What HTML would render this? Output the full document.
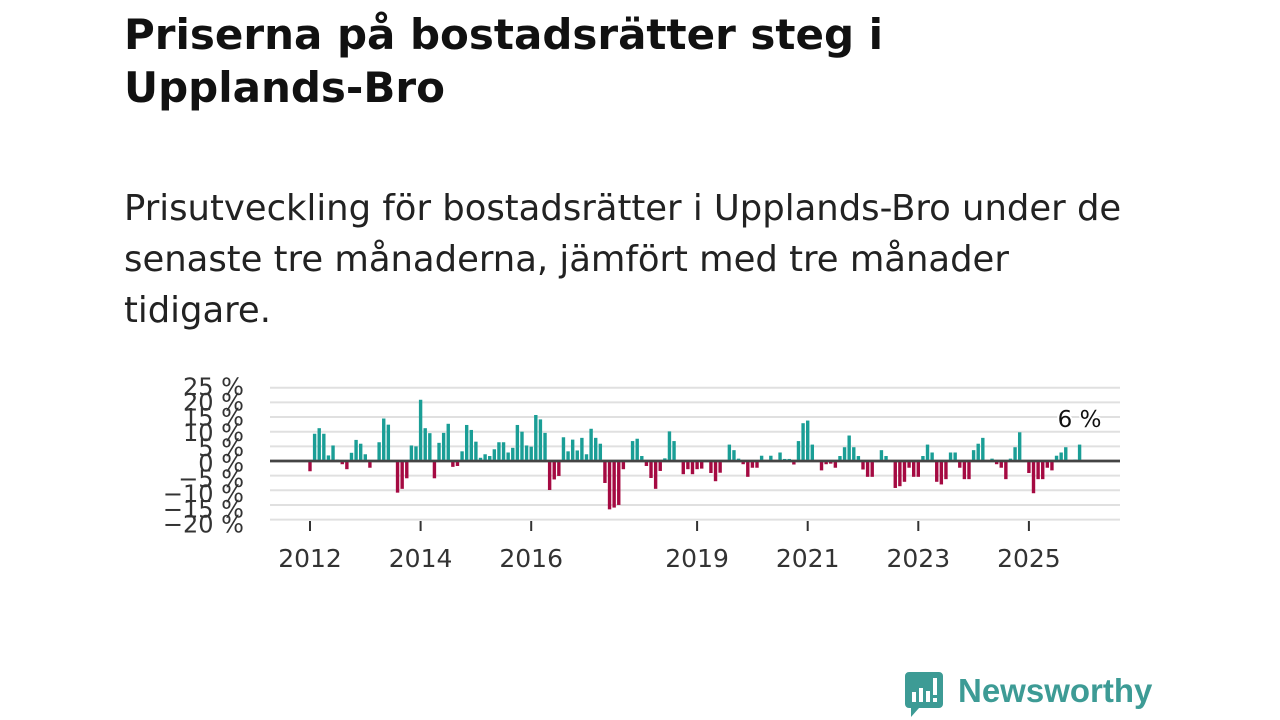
<!DOCTYPE html>
<html><head><meta charset="utf-8">
<style>
html,body{margin:0;padding:0;background:#fff;width:1280px;height:720px;overflow:hidden;font-family:"Liberation Sans","DejaVu Sans",sans-serif;}
#title{position:absolute;left:124px;top:8px;font-size:42px;font-weight:bold;line-height:53px;color:#111;margin:0;font-family:"DejaVu Sans","Liberation Sans",sans-serif;}
#subtitle{position:absolute;left:124px;top:183px;font-size:35.4px;line-height:51px;color:#222;margin:0;font-family:"DejaVu Sans","Liberation Sans",sans-serif;font-weight:normal;}
svg{position:absolute;left:0;top:0;}
#logo{position:absolute;left:903px;top:670px;width:260px;height:50px;}
</style></head><body>
<h1 id="title">Priserna på bostadsrätter steg i<br>Upplands-Bro</h1>
<h2 id="subtitle">Prisutveckling för bostadsrätter i Upplands-Bro under de<br>senaste tre månaderna, jämfört med tre månader<br>tidigare.</h2>
<svg id="chart" width="1280" height="720"></svg>
<div id="logo">
<svg width="260" height="50" style="position:absolute;left:0;top:0">
<path d="M2 2 h34 a4 4 0 0 1 4 4 v28 a4 4 0 0 1 -4 4 h-20 l-8 9 v-9 h-2 a4 4 0 0 1 -4 -4 v-28 a4 4 0 0 1 4 -4z" fill="#3d9b95"/>
<rect x="9" y="22" width="4" height="10" fill="#fff"/><rect x="16" y="18" width="4" height="14" fill="#fff"/><rect x="23" y="21" width="4" height="11" fill="#fff"/><rect x="30" y="8" width="4" height="17" fill="#fff"/><rect x="30" y="28" width="4" height="4" fill="#fff"/>
<text x="55" y="32" font-size="33" font-weight="bold" fill="#3d9b95" font-family="Liberation Sans, sans-serif">Newsworthy</text>
</svg></div>
<script>
const values = [-3.5,9.3,11.2,9.3,1.9,5.3,0.5,-1.1,-2.8,2.8,7.2,5.9,2.3,-2.3,0,6.4,14.5,12.4,0,-10.8,-9.5,-5.9,5.3,5.0,
20.9,11.2,9.5,-5.9,6.2,9.6,12.7,-2,-1.7,3.3,12.3,10.6,6.6,1.1,2.3,1.7,4,6.4,6.4,2.9,4.5,12.3,10,5.3,
4.9,15.7,14.2,9.6,-9.9,-6.3,-5.1,8.1,3.3,7.3,3.6,7.9,2.3,11,7.9,5.9,-7.5,-16.5,-15.9,-15,-2.8,0,6.8,7.6,
1.7,-1.7,-5.8,-9.5,-3.4,0.9,10.1,6.8,0,-4.5,-2.8,-4.5,-2.8,-2.6,0,-4.1,-6.9,-4,0,5.6,3.7,0.8,-1.1,-5.4,
-2.3,-2.3,1.8,0,1.8,0,2.9,0.7,0.7,-1.2,6.8,12.9,13.8,5.6,0,-3.2,-1.1,-0.9,-2.3,1.7,4.7,8.7,4.7,1.7,
-2.9,-5.4,-5.4,0,3.7,1.7,0,-9.2,-8.6,-7.1,-2.3,-5.4,-5.4,1.7,5.6,2.9,-7.1,-8,-6.2,2.9,2.9,-2.3,-6.2,-6.2,
3.7,5.9,7.9,0,0.8,-1.1,-2.3,-6.2,0.8,4.7,9.8,0,-4.1,-11,-6.2,-6.2,-2.3,-3.2,1.8,2.9,4.7,0,0.5,5.6];
const startYear = 2012;
const yTicks = [25,20,15,10,5,0,-5,-10,-15,-20];
const xTickYears = [2012,2014,2016,2019,2021,2023,2025];
const lastLabel = "6 %";

const NS="http://www.w3.org/2000/svg";
const svg=document.getElementById('chart');
const x0=310, pxYear=55.3, pxMonth=pxYear/12;
const zeroY=461, pxPct=2.93;
const xScale=(m)=>x0+m*pxMonth;
const yScale=(v)=>zeroY-v*pxPct;
function mk(tag,attrs){const e=document.createElementNS(NS,tag);for(const k in attrs)e.setAttribute(k,attrs[k]);svg.appendChild(e);return e;}
yTicks.forEach((t,k)=>{
  const g=mk('line',{x1:270,x2:1120,y1:yScale(t),y2:yScale(t),stroke:t===0?'#444':'#e0e0e0','stroke-width':t===0?2.5:2});
  
  
  const lb=mk('text',{x:244,y:387+k*15.3+8,'text-anchor':'end','font-size':24,fill:'#333','font-family':'DejaVu Sans, Liberation Sans, sans-serif'});
  lb.textContent=(t<0?'\u2212'+(-t):t)+' %';
  
  
});
values.forEach((v,i)=>{
  if(v===0)return;
  const x=xScale(i)-1.7, y=Math.min(yScale(v),zeroY), h=Math.abs(yScale(v)-zeroY);
  const r=mk('rect',{x:x,y:y,width:3.4,height:h,fill:v>0?'#1a9e96':'#a50a42'});
  
  
});
const z=mk('line',{x1:270,x2:1120,y1:zeroY,y2:zeroY,stroke:'#444','stroke-width':2.5});


xTickYears.forEach(yr=>{
  const x=xScale((yr-startYear)*12);
  const t=mk('line',{x1:x,x2:x,y1:521,y2:531,stroke:'#333','stroke-width':2});
  
  
  const lb=mk('text',{x:x,y:567,'text-anchor':'middle','font-size':25,fill:'#333','font-family':'DejaVu Sans, Liberation Sans, sans-serif'});
  lb.textContent=yr;
  
  
});
const last=values.length-1;
const ll=mk('text',{x:xScale(last),y:427,'text-anchor':'middle','font-size':23,fill:'#111',stroke:'#fff','stroke-width':4,'paint-order':'stroke','font-family':'DejaVu Sans, Liberation Sans, sans-serif'});
ll.textContent=lastLabel;


</script>
</body></html>
